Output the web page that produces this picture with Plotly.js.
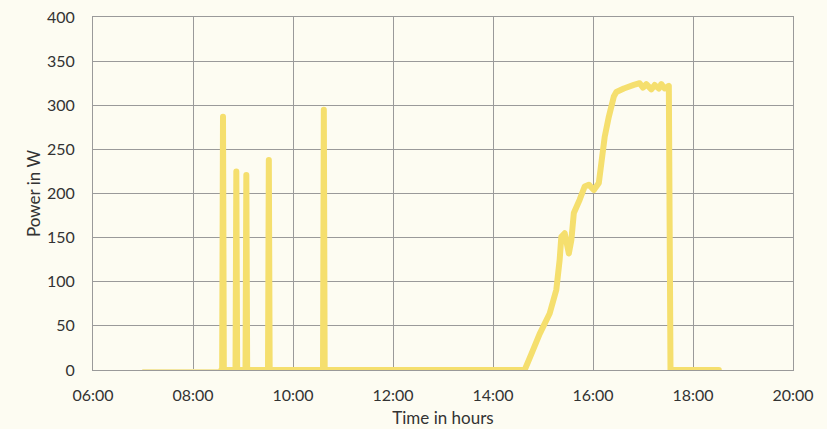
<!DOCTYPE html>
<html>
<head>
<meta charset="utf-8">
<script src="https://cdn.plot.ly/plotly-3.0.1.min.js"></script>
<style>
html,body{margin:0;padding:0;background:#fdfcf2;}
path.js-line{stroke-linejoin:round !important;stroke-linecap:round !important;}
</style>
</head>
<body>
<div id="chart" style="width:827px;height:429px;"></div>
<script>
// Early standby readings (faint segment)
const earlyTimes = ["07:00","07:30","08:00","08:34"];
const earlyPower = [0,0,0,0];

// Times of day (HH:MM) and measured power (W)
const times = [
  "08:34","08:35","08:36","08:37",
  "08:50","08:51","08:52","08:53","09:02","09:03","09:04","09:05",
  "09:29","09:30","09:31","09:32","10:35","10:36","10:37","10:38",
  "12:00","14:00","14:38","14:46","14:56","15:08","15:16","15:20","15:22","15:26","15:31","15:34","15:37",
  "15:44","15:50","15:55","16:01","16:07","16:10","16:14","16:19","16:22","16:25","16:28","16:32","16:37","16:49",
  "16:56","17:00","17:04","17:10","17:14","17:19","17:22","17:26","17:31","17:32","17:33","18:00","18:31"
];
const power = [
  0,0,287,0,
  0,0,225,0,0,0,221,0,
  0,0,238,0,0,0,295,0,
  0,0,0,18,41,64,91,125,151,155,132,147,178,
  193,208,210,204,212,234,264,287,303,310,315,317,319,323,
  325,320,324,318,323,319,324,319,322,160,0,0,0
];
const xTickVals = ["06:00","08:00","10:00","12:00","14:00","16:00","18:00","20:00"];
const yTickVals = [0,50,100,150,200,250,300,350,400];

const day = "2024-01-01 ";
const toDate = arr => arr.map(t => day + t);

Plotly.newPlot("chart", [
  {
    x: toDate(earlyTimes), y: earlyPower, type: "scatter", mode: "lines",
    line: {color: "#f3e6a0", width: 2}, hoverinfo: "skip"
  },
  {
    x: toDate(times), y: power, type: "scatter", mode: "lines",
    line: {color: "#f5df6e", width: 6}, hoverinfo: "skip"
  }
], {
  width: 827, height: 429,
  margin: {l: 93, r: 34, t: 17, b: 59},
  paper_bgcolor: "#fdfcf2", plot_bgcolor: "#fdfcf2",
  showlegend: false,
  font: {family: "Lato, 'Open Sans', sans-serif", size: 16, color: "#333333"},
  xaxis: {
    type: "date",
    range: [day + "06:00", day + "20:00"],
    tickvals: xTickVals.map(t => day + t),
    ticktext: xTickVals,
    showgrid: true, gridcolor: "#9a9a9a", gridwidth: 1,
    showline: true, linecolor: "#9a9a9a", linewidth: 1, mirror: true,
    zeroline: false, ticks: "", ticklabelstandoff: 11,
    title: {text: "Time in hours", font: {size: 17, color: "#333333"}, standoff: 8}
  },
  yaxis: {
    range: [0, 400],
    tickvals: yTickVals,
    showgrid: true, gridcolor: "#9a9a9a", gridwidth: 1,
    showline: true, linecolor: "#9a9a9a", linewidth: 1, mirror: true,
    zeroline: false, ticks: "", ticklabelstandoff: 14,
    title: {text: "Power in W", font: {size: 17, color: "#333333"}, standoff: 2}
  }
}, {staticPlot: true});
</script>
</body>
</html>
